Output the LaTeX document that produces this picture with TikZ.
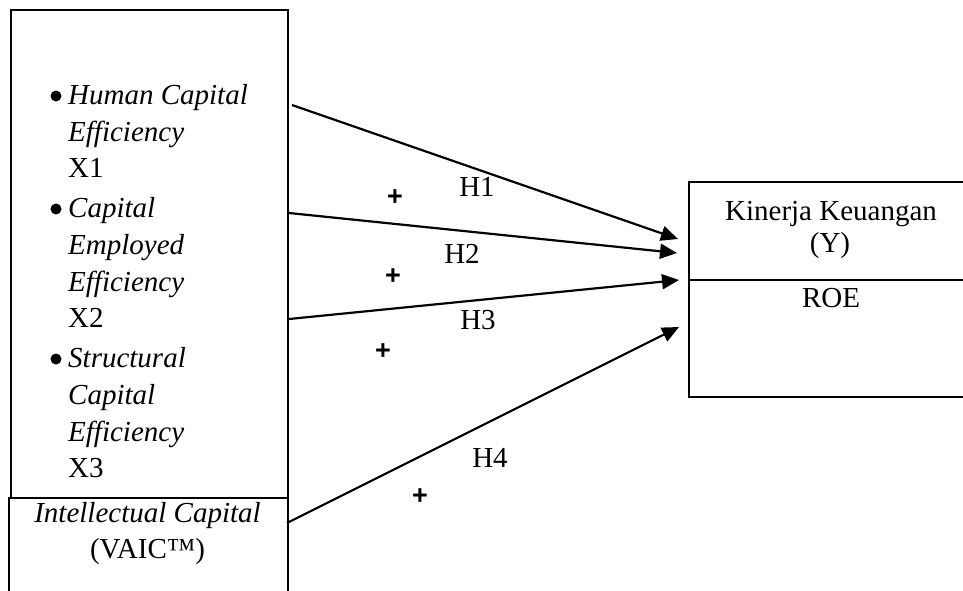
\documentclass[tikz,border=0pt]{standalone}
\usepackage{fontspec}
\setmainfont{Liberation Serif}
\newfontfamily\plusfont{Liberation Sans}
\usetikzlibrary{arrows.meta}
\begin{document}
\begin{tikzpicture}[x=1pt,y=-1pt,
  box/.style={draw, line width=2.4pt, inner sep=0pt, anchor=north west},
  txt/.style={anchor=base west, inner sep=0pt, font=\fontsize{29}{37}\selectfont},
  ctr/.style={anchor=base, inner sep=0pt, font=\fontsize{29}{37}\selectfont},
  dot/.style={circle, fill, inner sep=0pt, minimum size=11pt},
  link/.style={line width=2.2pt, -{Triangle[length=17pt,width=15pt]}},
  sign/.style={inner sep=0pt, font=\plusfont\bfseries\fontsize{27}{27}\selectfont},
]
\useasboundingbox (0,0) rectangle (963,590);
\clip (0,0) rectangle (963,590);
% boxes
\node[box, minimum width=277pt, minimum height=488pt] (ic) at (10,9) {};
\node[box, minimum width=279pt, minimum height=110pt] (vaic) at (8,497) {};
\node[box, minimum width=290pt, minimum height=215pt] (y) at (688,181) {};
\draw[line width=2.4pt] (y.west |- 0,280) -- (y.east |- 0,280);
% left texts
\node[dot] (b1) at (56,96) {};
\node[dot] (b2) at (56,209) {};
\node[dot] (b3) at (56,359) {};
\node[txt] (t1) at (68,104) {\textit{Human Capital}};
\node[txt] (t2) at (68,141) {\textit{Efficiency}};
\node[txt] (t3) at (68,177) {X1};
\node[txt] (t4) at (68,217) {\textit{Capital}};
\node[txt] (t5) at (68,254) {\textit{Employed}};
\node[txt] (t6) at (68,291) {\textit{Efficiency}};
\node[txt] (t7) at (68,327) {X2};
\node[txt] (t8) at (68,367) {\textit{Structural}};
\node[txt] (t9) at (68,404) {\textit{Capital}};
\node[txt] (t10) at (68,441) {\textit{Efficiency}};
\node[txt] (t11) at (68,477) {X3};
\node[ctr] (v1) at (147.5,522) {\textit{Intellectual Capital}};
\node[ctr] (v2) at (147.5,558) {(VAIC™)};
% right texts
\node[ctr] (k1) at (831,220) {Kinerja Keuangan};
\node[ctr] (k2) at (830,252) {(Y)};
\node[ctr] (k3) at (831,307) {ROE};
% arrow ends
\coordinate (s1) at (292,105);
\coordinate (s2) at (289,213);
\coordinate (s3) at (289,319);
\coordinate (s4) at (287,523);
\coordinate (e1) at (678,239);
\coordinate (e2) at (677,253);
\coordinate (e3) at (679,280);
\coordinate (e4) at (679,327);
\draw[link] (s1) -- (e1);
\draw[link] (s2) -- (e2);
\draw[link] (s3) -- (e3);
\draw[link] (s4) -- (e4);
% labels
\node[ctr] (h1) at (477,196) {H1};
\node[ctr] (h2) at (462,263) {H2};
\node[ctr] (h3) at (478,329) {H3};
\node[ctr] (h4) at (490,467) {H4};
\node[sign] (p1) at (395,198) {+};
\node[sign] (p2) at (393,277) {+};
\node[sign] (p3) at (383,352) {+};
\node[sign] (p4) at (420,497) {+};
\end{tikzpicture}
\end{document}
